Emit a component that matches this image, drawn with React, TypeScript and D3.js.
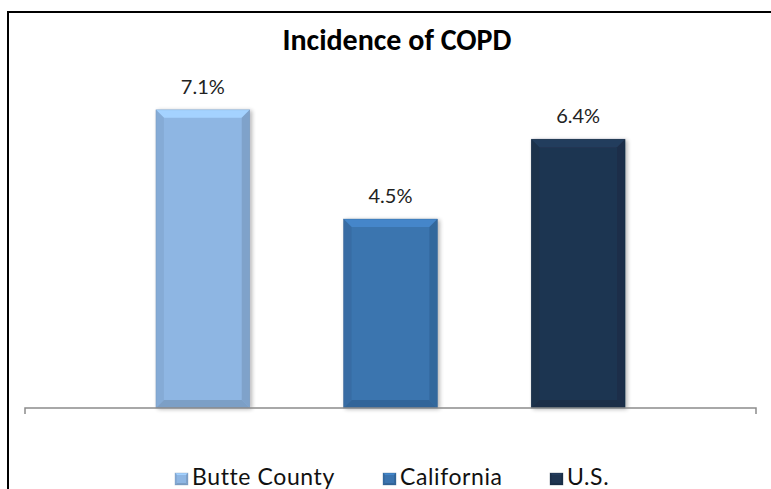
import React from "react";
import * as d3 from "d3";

const title = "Incidence of COPD";
const seriesNames = ["Butte County", "California", "U.S."];
const seriesValues = [7.1, 4.5, 6.4];
const seriesColors = ["#8eb6e3", "#3b74af", "#1f3551"];
const valueLabels = ["7.1%", "4.5%", "6.4%"];

const W = 771;
const H = 489;
const LABEL_FONT = "'Century Gothic', 'Lato', 'DejaVu Sans', sans-serif";

function Bevel({ x, y, w, h, color, b }: { x: number; y: number; w: number; h: number; color: string; b: number }) {
  const c = d3.color(color)!;
  const light = c.brighter(0.4).formatHex();
  const dark = c.darker(0.25).formatHex();
  const darker = c.darker(0.45).formatHex();
  const x2 = x + w;
  const y2 = y + h;
  return (
    <g>
      <rect x={x} y={y} width={w} height={h} fill={color} />
      <polygon points={`${x},${y} ${x2},${y} ${x2 - b},${y + b} ${x + b},${y + b}`} fill={light} />
      <polygon points={`${x},${y} ${x + b},${y + b} ${x + b},${y2 - b} ${x},${y2}`} fill={dark} opacity={0.7} />
      <polygon points={`${x2},${y} ${x2},${y2} ${x2 - b},${y2 - b} ${x2 - b},${y + b}`} fill={darker} opacity={0.75} />
      <polygon points={`${x},${y2} ${x + b},${y2 - b} ${x2 - b},${y2 - b} ${x2},${y2}`} fill={darker} opacity={0.85} />
      <rect x={x} y={y} width={w} height={h} fill="none" stroke={c.darker(0.8).formatHex()} strokeWidth={0.6} opacity={0.5} />
    </g>
  );
}

export default function App() {
  const axisLeft = 25;
  const axisRight = 756;
  const baseY = 408;

  const groupPad = 84;
  const x = d3
    .scaleBand<string>()
    .domain(seriesNames)
    .range([axisLeft + groupPad, axisRight - groupPad])
    .paddingInner(0.5)
    .paddingOuter(0.25);

  const y = d3.scaleLinear().domain([0, 8]).range([baseY, baseY - 8 * 42]);

  const legendX = [175, 383, 550];

  return (
    <svg width={W} height={H} style={{ position: "absolute", left: 0, top: 0 }}>
      <defs>
        <filter id="shadow" x="-10%" y="-10%" width="130%" height="120%">
          <feGaussianBlur in="SourceAlpha" stdDeviation="2" />
          <feOffset dx="2" dy="1" result="b" />
          <feComponentTransfer>
            <feFuncA type="linear" slope="0.3" />
          </feComponentTransfer>
          <feMerge>
            <feMergeNode />
            <feMergeNode in="SourceGraphic" />
          </feMerge>
        </filter>
      </defs>
      <rect x={0} y={0} width={W} height={H} fill="#ffffff" />
      {/* chart frame */}
      <path d={`M8,${H + 5} L8,12 L${W + 5},12`} fill="none" stroke="#000" strokeWidth={2} />

      <text
        x={397}
        y={50}
        textAnchor="middle"
        fontFamily="Calibri, Carlito, 'Open Sans', 'Liberation Sans', sans-serif"
        fontWeight="bold"
        fontSize={30}
        fill="#000"
      >
        {title}
      </text>

      {seriesNames.map((s, i) => {
        const bx = x(s)!;
        const bw = x.bandwidth();
        const ty = y(seriesValues[i]);
        return (
          <g key={s}>
            <g filter="url(#shadow)">
              <Bevel x={bx} y={ty} w={bw} h={baseY - ty} color={seriesColors[i]} b={8} />
            </g>
            <text
              x={bx + bw / 2}
              y={ty - 16}
              textAnchor="middle"
              fontFamily={LABEL_FONT}
              fontSize={20}
              fill="#222"
            >
              {valueLabels[i]}
            </text>
          </g>
        );
      })}

      {/* category axis */}
      <path
        d={`M${axisLeft},${baseY + 6} L${axisLeft},${baseY} L${axisRight},${baseY} L${axisRight},${baseY + 6}`}
        fill="none"
        stroke="#8c8c8c"
        strokeWidth={1.5}
      />

      {seriesNames.map((s, i) => (
        <g key={`lg-${s}`}>
          <Bevel x={legendX[i]} y={473} w={13} h={12} color={seriesColors[i]} b={2} />
          <text x={legendX[i] + 17} y={485} fontFamily={LABEL_FONT} fontSize={23} letterSpacing={0.6} fill="#111">
            {s}
          </text>
        </g>
      ))}
    </svg>
  );
}
